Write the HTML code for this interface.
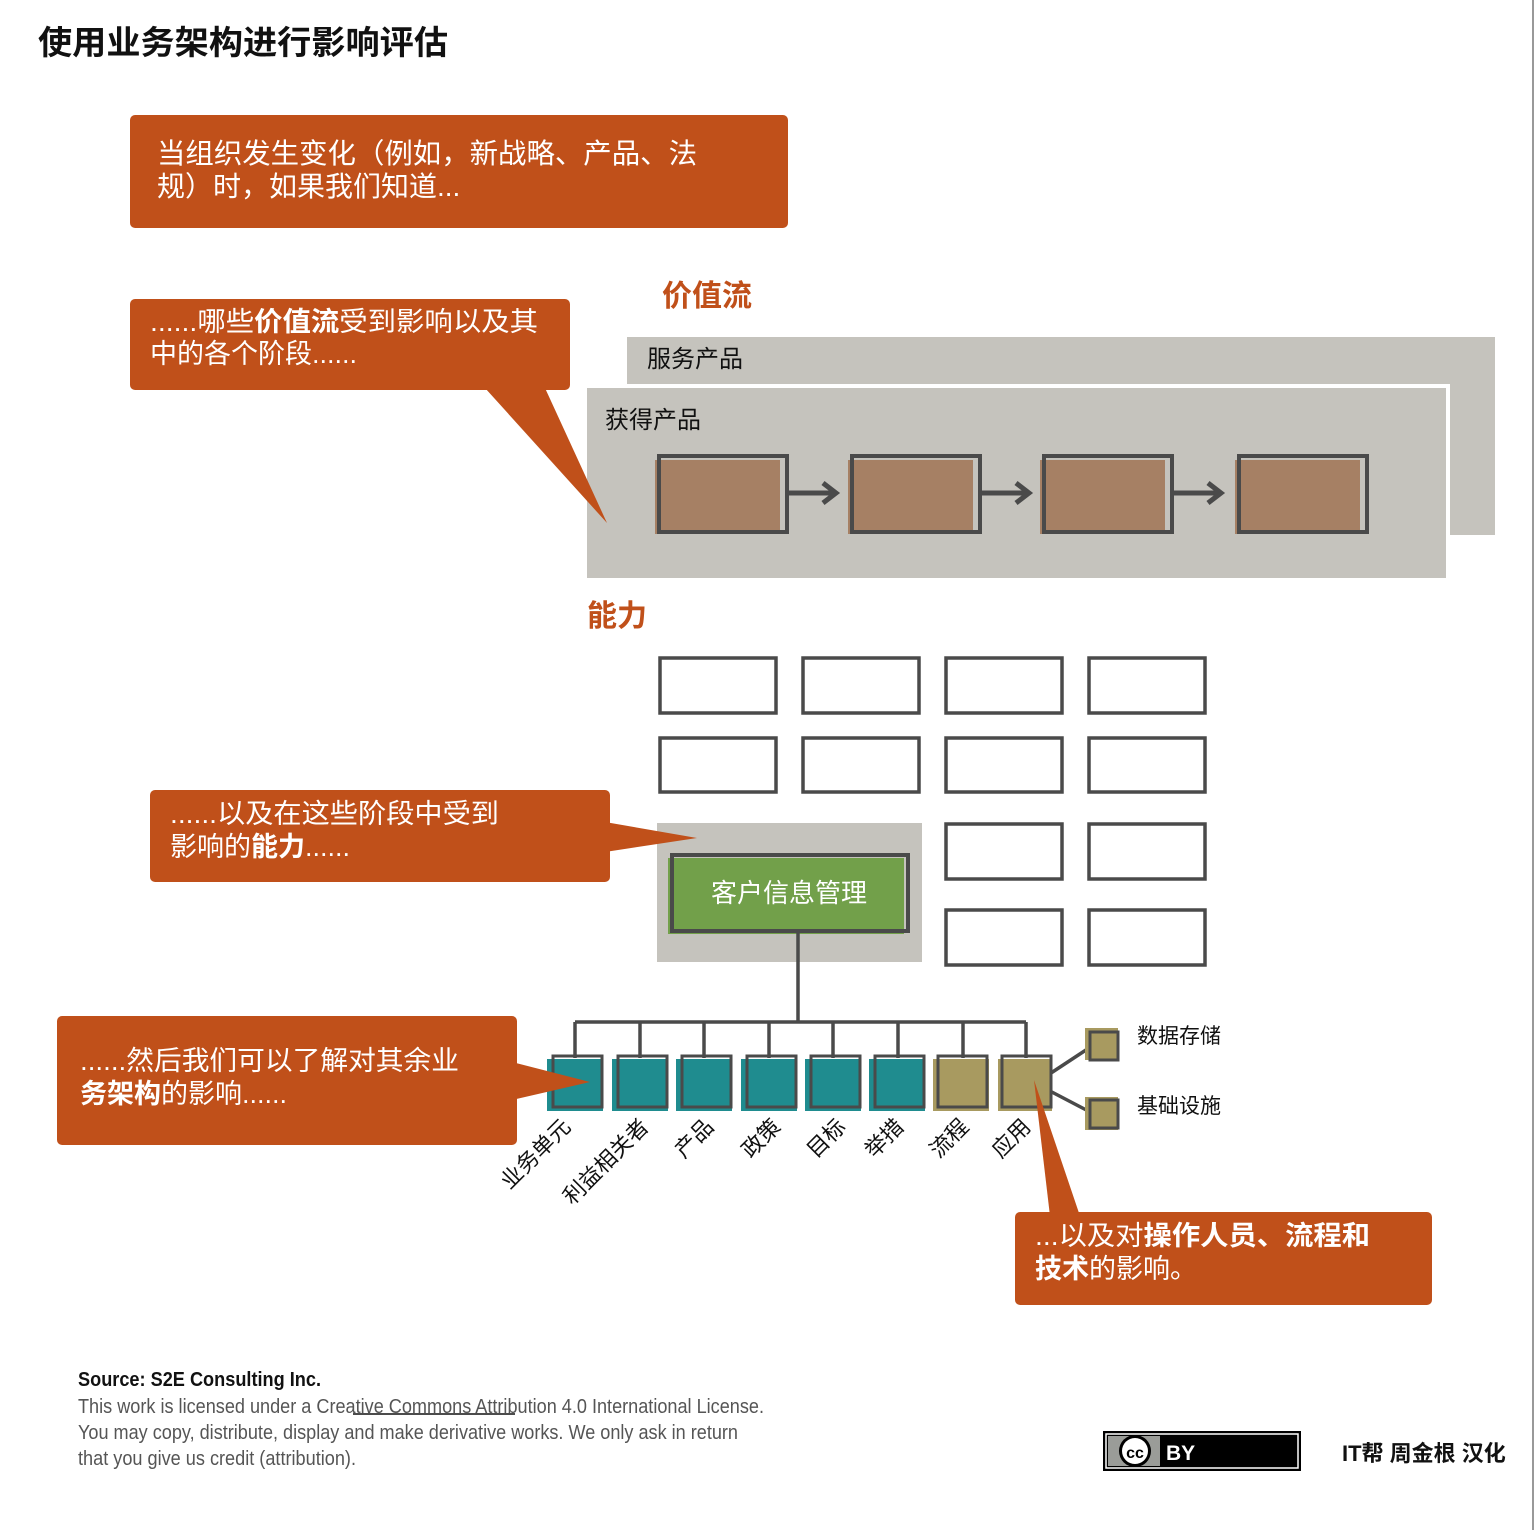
<!DOCTYPE html>
<html><head><meta charset="utf-8"><style>
html,body{margin:0;padding:0;background:#fff;}
svg{display:block;}
text{font-family:"Liberation Sans","Noto Sans CJK SC",sans-serif;}
</style></head><body>
<svg width="1536" height="1530" viewBox="0 0 1536 1530" xmlns="http://www.w3.org/2000/svg">
<line x1="1533" y1="0" x2="1533" y2="1530" stroke="#999" stroke-width="2"/>
<text x="38" y="54" font-size="33" font-weight="bold" fill="#111" textLength="410" lengthAdjust="spacingAndGlyphs">使用业务架构进行影响评估</text>

<!-- callout 1 -->
<rect x="130" y="115" width="658" height="113" rx="5" fill="#c0501a"/>
<text x="157" y="163" font-size="28" fill="#fff" textLength="540" lengthAdjust="spacingAndGlyphs">当组织发生变化（例如，新战略、产品、法</text>
<text x="157" y="196" font-size="28" fill="#fff">规）时，如果我们知道...</text>

<!-- value stream -->
<text x="662" y="306" font-size="30" font-weight="bold" fill="#c0501a">价值流</text>
<rect x="627" y="337" width="868" height="198" fill="#c5c3bd"/>
<text x="647" y="367" font-size="24" fill="#111">服务产品</text>
<rect x="585" y="386" width="863" height="194" fill="#c5c3bd" stroke="#fff" stroke-width="4"/>
<text x="605" y="428" font-size="24" fill="#111">获得产品</text>
<g>
<g transform="translate(655,0)"><rect x="0" y="460" width="125" height="74" fill="#a68064"/><rect x="4" y="456" width="128" height="76" fill="none" stroke="#4a4a4a" stroke-width="4"/><path d="M134 493 L180 493 M168 483 L181 493 L168 503" fill="none" stroke="#4a4a4a" stroke-width="5"/></g>
<g transform="translate(848,0)"><rect x="0" y="460" width="125" height="74" fill="#a68064"/><rect x="4" y="456" width="128" height="76" fill="none" stroke="#4a4a4a" stroke-width="4"/><path d="M134 493 L180 493 M168 483 L181 493 L168 503" fill="none" stroke="#4a4a4a" stroke-width="5"/></g>
<g transform="translate(1040,0)"><rect x="0" y="460" width="125" height="74" fill="#a68064"/><rect x="4" y="456" width="128" height="76" fill="none" stroke="#4a4a4a" stroke-width="4"/><path d="M134 493 L180 493 M168 483 L181 493 L168 503" fill="none" stroke="#4a4a4a" stroke-width="5"/></g>
<g transform="translate(1235,0)"><rect x="0" y="460" width="125" height="74" fill="#a68064"/><rect x="4" y="456" width="128" height="76" fill="none" stroke="#4a4a4a" stroke-width="4"/></g>
</g>

<!-- callout 2 -->
<path d="M485 388 L607 523 L545 388 Z" fill="#c0501a"/>
<rect x="130" y="299" width="440" height="91" rx="5" fill="#c0501a"/>
<text x="150" y="331" font-size="27" fill="#fff" textLength="388" lengthAdjust="spacingAndGlyphs">......哪些<tspan font-weight="bold">价值流</tspan>受到影响以及其</text>
<text x="150" y="363" font-size="27" fill="#fff">中的各个阶段......</text>

<!-- capabilities -->
<text x="587" y="626" font-size="30" font-weight="bold" fill="#c0501a">能力</text>
<g fill="#fff" stroke="#4a4a4a" stroke-width="3.5">
<rect x="660" y="658" width="116" height="55"/><rect x="803" y="658" width="116" height="55"/><rect x="946" y="658" width="116" height="55"/><rect x="1089" y="658" width="116" height="55"/>
<rect x="660" y="738" width="116" height="54"/><rect x="803" y="738" width="116" height="54"/><rect x="946" y="738" width="116" height="54"/><rect x="1089" y="738" width="116" height="54"/>
<rect x="946" y="824" width="116" height="55"/><rect x="1089" y="824" width="116" height="55"/>
<rect x="946" y="910" width="116" height="55"/><rect x="1089" y="910" width="116" height="55"/>
</g>
<rect x="657" y="823" width="265" height="139" fill="#c5c3bd"/>
<rect x="668" y="858" width="236" height="76" fill="#72a04a"/>
<rect x="672" y="855" width="236" height="76" fill="none" stroke="#4a4a4a" stroke-width="4"/>
<text x="789" y="902" font-size="26" fill="#fff" text-anchor="middle">客户信息管理</text>

<!-- callout 3 -->
<path d="M605 822 L697 838 L605 852 Z" fill="#c0501a"/>
<rect x="150" y="790" width="460" height="92" rx="5" fill="#c0501a"/>
<text x="170" y="823" font-size="27" fill="#fff" textLength="329" lengthAdjust="spacingAndGlyphs">......以及在这些阶段中受到</text>
<text x="170" y="856" font-size="27" fill="#fff">影响的<tspan font-weight="bold">能力</tspan>......</text>

<!-- tree -->
<g stroke="#4a4a4a" stroke-width="3.5" fill="none">
<line x1="798" y1="932" x2="798" y2="1022"/>
<line x1="575" y1="1022" x2="1026" y2="1022"/>
<line x1="575" y1="1022" x2="575" y2="1058"/><line x1="640" y1="1022" x2="640" y2="1058"/><line x1="704" y1="1022" x2="704" y2="1058"/><line x1="769" y1="1022" x2="769" y2="1058"/><line x1="833" y1="1022" x2="833" y2="1058"/><line x1="898" y1="1022" x2="898" y2="1058"/><line x1="963" y1="1022" x2="963" y2="1058"/><line x1="1026" y1="1022" x2="1026" y2="1058"/>
<line x1="1048" y1="1075" x2="1092" y2="1046"/><line x1="1048" y1="1090" x2="1092" y2="1113"/>
</g>
<g>
<rect x="547" y="1059" width="56" height="52" fill="#1f8c8f"/><rect x="612" y="1059" width="56" height="52" fill="#1f8c8f"/><rect x="676" y="1059" width="56" height="52" fill="#1f8c8f"/><rect x="741" y="1059" width="56" height="52" fill="#1f8c8f"/><rect x="805" y="1059" width="56" height="52" fill="#1f8c8f"/><rect x="869" y="1059" width="56" height="52" fill="#1f8c8f"/><rect x="933" y="1059" width="56" height="52" fill="#a89a60"/><rect x="998" y="1059" width="54" height="52" fill="#a89a60"/>
<rect x="1085" y="1028" width="33" height="32" fill="#a89a60"/><rect x="1085" y="1097" width="33" height="33" fill="#a89a60"/>
</g>
<g fill="none" stroke="#4a4a4a" stroke-width="3">
<rect x="553" y="1056" width="49" height="51"/><rect x="618" y="1056" width="49" height="51"/><rect x="682" y="1056" width="49" height="51"/><rect x="747" y="1056" width="49" height="51"/><rect x="811" y="1056" width="49" height="51"/><rect x="875" y="1056" width="49" height="51"/><rect x="938" y="1056" width="49" height="51"/><rect x="1002" y="1056" width="49" height="51"/>
<rect x="1090" y="1032" width="28" height="28"/><rect x="1090" y="1100" width="28" height="28"/>
</g>
<text x="1137" y="1043" font-size="21" fill="#111">数据存储</text>
<text x="1137" y="1113" font-size="21" fill="#111">基础设施</text>
<g font-size="22" fill="#111" text-anchor="end">
<text transform="translate(572,1128) rotate(-45)">业务单元</text>
<text transform="translate(650,1128) rotate(-45)">利益相关者</text>
<text transform="translate(715,1128) rotate(-45)">产品</text>
<text transform="translate(782,1128) rotate(-45)">政策</text>
<text transform="translate(847,1128) rotate(-45)">目标</text>
<text transform="translate(905,1128) rotate(-45)">举措</text>
<text transform="translate(970,1128) rotate(-45)">流程</text>
<text transform="translate(1032,1128) rotate(-45)">应用</text>
</g>

<!-- callout 4 -->
<path d="M512 1062 L590 1082 L512 1100 Z" fill="#c0501a"/>
<rect x="57" y="1016" width="460" height="129" rx="5" fill="#c0501a"/>
<text x="80" y="1070" font-size="27" fill="#fff" textLength="379" lengthAdjust="spacingAndGlyphs">......然后我们可以了解对其余业</text>
<text x="80" y="1103" font-size="27" fill="#fff"><tspan font-weight="bold">务架构</tspan>的影响......</text>

<!-- callout 5 -->
<path d="M1034 1080 L1050 1216 L1080 1216 Z" fill="#c0501a"/>
<rect x="1015" y="1212" width="417" height="93" rx="5" fill="#c0501a"/>
<text x="1035" y="1245" font-size="27" fill="#fff" textLength="335" lengthAdjust="spacingAndGlyphs">...以及对<tspan font-weight="bold">操作人员、流程和</tspan></text>
<text x="1035" y="1278" font-size="27" fill="#fff"><tspan font-weight="bold">技术</tspan>的影响。</text>

<!-- footer -->
<text x="78" y="1386" font-size="20" font-weight="bold" fill="#111" textLength="243" lengthAdjust="spacingAndGlyphs">Source: S2E Consulting Inc.</text>
<text x="78" y="1413" font-size="20" fill="#555" textLength="686" lengthAdjust="spacingAndGlyphs">This work is licensed under a Creative Commons Attribution 4.0 International License.</text>
<line x1="353" y1="1414" x2="515" y2="1414" stroke="#111" stroke-width="1.5"/>
<text x="78" y="1439" font-size="20" fill="#555" textLength="660" lengthAdjust="spacingAndGlyphs">You may copy, distribute, display and make derivative works. We only ask in return</text>
<text x="78" y="1465" font-size="20" fill="#555" textLength="278" lengthAdjust="spacingAndGlyphs">that you give us credit (attribution).</text>

<rect x="1103" y="1431" width="198" height="40" fill="#000"/>
<rect x="1106" y="1434" width="192" height="34" fill="none" stroke="#fff" stroke-width="1.5"/>
<rect x="1108" y="1436" width="52" height="30" fill="#9a9c98"/>
<circle cx="1135" cy="1451" r="16" fill="#000"/>
<circle cx="1135" cy="1451" r="13" fill="#fff"/>
<text x="1135" y="1458" font-size="16" font-weight="bold" fill="#000" text-anchor="middle">cc</text>
<text x="1166" y="1460" font-size="21" font-weight="bold" fill="#fff">BY</text>
<text x="1342" y="1461" font-size="22" font-weight="bold" fill="#111">IT帮 周金根 汉化</text>
</svg>
</body></html>
